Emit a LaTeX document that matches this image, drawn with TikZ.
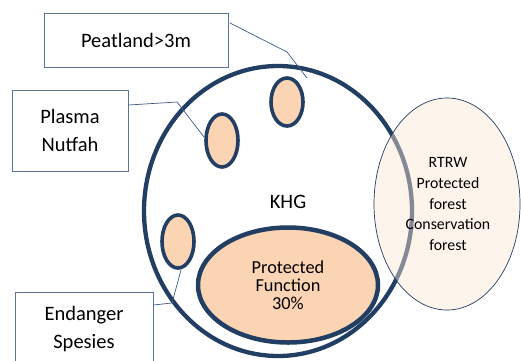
\documentclass[tikz,border=0pt]{standalone}
\usepackage{fontspec}
\setmainfont{Carlito}
\usetikzlibrary{shapes.geometric}
\definecolor{navy}{HTML}{223E63}
\definecolor{peach}{HTML}{FBD4B4}
\definecolor{boxline}{HTML}{5A7396}
\definecolor{conn}{HTML}{3D5A80}
\definecolor{rtrwfill}{HTML}{FBE6D4}
\tikzset{
  labelbox/.style={draw=boxline, line width=0.9pt, fill=white, inner sep=0pt, align=center, font=\fontsize{20.5}{28}\selectfont},
  blob/.style={ellipse, draw=navy, line width=3.6pt, fill=peach, inner sep=0pt, minimum width=32pt, minimum height=50pt},
  conline/.style={draw=conn, line width=0.7pt},
}
\begin{document}
\begin{tikzpicture}[x=1pt,y=-1pt]
\useasboundingbox (0,0) rectangle (521,360);
% label boxes
\node[labelbox, minimum width=184pt, minimum height=54pt] (peat) at (136,40) {Peatland>3m};
\node[labelbox, minimum width=116pt, minimum height=81pt] (plasma) at (70,130.5) {Plasma\\Nutfah};
\node[labelbox, minimum width=138pt, minimum height=74pt] (endg) at (84,329) {Endanger\\Spesies};
% big circle
\node[ellipse, draw=navy, line width=4.3pt, inner sep=0pt, minimum width=268pt, minimum height=290pt] (khg) at (278,211) {};
\node[font=\fontsize{20.5}{24}\selectfont] (khgt) at (288,202) {KHG};
% small blobs
\node[blob, minimum height=48pt] (e1) at (287,102) {};
\node[blob, minimum height=53pt] (e2) at (222,140.5) {};
\node[blob, minimum height=53pt] (e3) at (178,241.5) {};
% protected function
\node[ellipse, draw=navy, line width=4.5pt, fill=peach, inner sep=0pt, minimum width=180pt, minimum height=115pt] (pf) at (288,285) {};
\node[align=center, font=\fontsize{18.3}{18}\selectfont] (pft) at (288,285) {Protected\\Function\\30\%};
% connectors
\coordinate (c1a) at (230,23);
\coordinate (c1b) at (287,52);
\coordinate (c1c) at (307,78);
\draw[conline] (c1a) -- (c1b) -- (c1c);
\coordinate (c2a) at (plasma.east |- 0,105);
\coordinate (c2b) at (177,102);
\coordinate (c2c) at (204,137);
\draw[conline] (c2a) -- (c2b) -- (c2c);
\coordinate (c3a) at (endg.east |- 0,305);
\coordinate (c3b) at (172,303);
\coordinate (c3c) at (181,270);
\draw[conline] (c3a) -- (c3b) -- (c3c);
% RTRW ellipse
\node[ellipse, draw=navy, line width=0.7pt, fill=rtrwfill, fill opacity=0.45, inner sep=0pt, minimum width=146pt, minimum height=212pt] (rtrw) at (447,204) {};
\node[align=center, font=\fontsize{15.8}{20.7}\selectfont] (rtrwt) at (448,204) {RTRW\\Protected\\forest\\Conservation\\forest};
\end{tikzpicture}
\end{document}
